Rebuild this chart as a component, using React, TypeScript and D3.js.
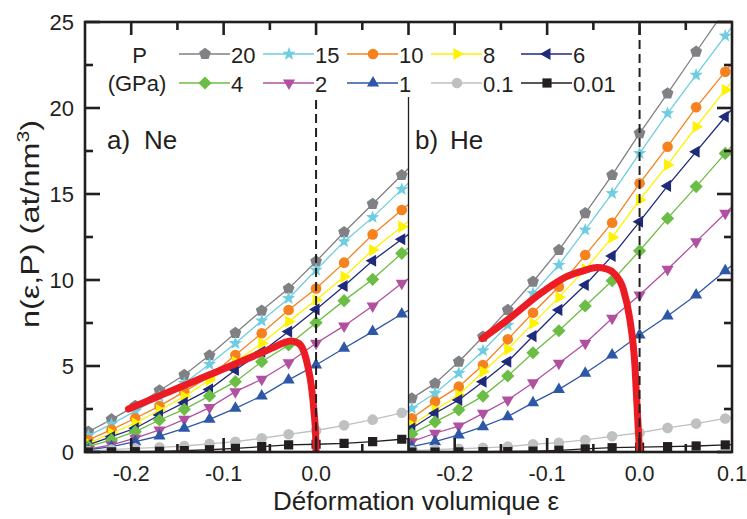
import React from 'react';
import * as d3 from 'd3';

// Volumetric strain values of the computed points (last one lies beyond the frame, clipped)
const strain = [-0.2464, -0.2213, -0.1956, -0.1694, -0.1426, -0.1153, -0.0873, -0.0588, -0.0297, 0, 0.0303, 0.0612, 0.0927, 0.1249];

const pressures = ['20', '15', '10', '8', '6', '4', '2', '1', '0.1', '0.01'];
const colors = ['#808184', '#6fcde1', '#f6821f', '#fff200', '#1f2a7b', '#6bbd45', '#b14fa1', '#2d57a7', '#bfc0c2', '#231f20'];
const shapes = ['pentagon', 'star', 'circle', 'triRight', 'triLeft', 'diamond', 'triDown', 'triUp', 'circle', 'square'];

// a) Ne
const ne20 = [1.18, 1.90, 2.68, 3.58, 4.48, 5.62, 6.92, 8.22, 9.50, 11.08, 12.78, 14.42, 16.10, 17.8];
const ne15 = [0.95, 1.62, 2.38, 3.20, 4.00, 5.10, 6.32, 7.63, 8.93, 10.58, 12.23, 13.64, 15.27, 16.9];
const ne10 = [0.70, 1.30, 1.96, 2.67, 3.51, 4.38, 5.64, 6.90, 8.26, 9.51, 11.01, 12.65, 14.07, 15.5];
const ne8 = [0.50, 1.09, 1.67, 2.44, 3.22, 4.19, 5.25, 6.32, 7.58, 8.84, 10.19, 11.74, 13.10, 14.45];
const ne6 = [0.41, 0.89, 1.38, 2.15, 2.87, 3.64, 4.77, 5.83, 7.00, 8.29, 9.65, 11.12, 12.37, 13.6];
const ne4 = [0.31, 0.70, 1.18, 1.86, 2.48, 3.26, 4.09, 5.25, 6.22, 7.52, 8.80, 10.04, 11.55, 12.9];
const ne2 = [0.16, 0.41, 0.80, 1.28, 1.90, 2.58, 3.51, 4.23, 5.19, 6.32, 7.33, 8.49, 9.81, 11.0];
const ne1 = [0.12, 0.31, 0.60, 0.93, 1.38, 1.90, 2.54, 3.26, 4.19, 5.06, 6.03, 7.00, 8.02, 9.0];
const ne01 = [0.05, 0.14, 0.21, 0.27, 0.35, 0.47, 0.60, 0.80, 1.03, 1.25, 1.55, 1.88, 2.28, 2.7];
const ne001 = [0.0, 0.01, 0.02, 0.04, 0.08, 0.13, 0.21, 0.31, 0.41, 0.45, 0.50, 0.60, 0.74, 0.88];

// b) He
const he20 = [3.12, 3.99, 5.25, 6.70, 8.26, 9.90, 11.74, 13.88, 16.10, 18.53, 20.85, 23.27, 25.7, 28.0];
const he15 = [2.54, 3.41, 4.58, 5.89, 7.38, 9.22, 10.87, 12.91, 15.04, 17.36, 19.69, 21.92, 24.19, 26.5];
const he10 = [1.96, 2.93, 3.80, 5.06, 6.55, 8.10, 9.61, 11.45, 13.33, 15.62, 17.75, 20.04, 22.11, 24.3];
const he8 = [1.57, 2.44, 3.31, 4.67, 5.97, 7.48, 8.99, 10.62, 12.48, 14.65, 16.69, 18.91, 21.05, 23.2];
const he6 = [1.38, 2.25, 3.02, 4.09, 5.25, 6.74, 8.26, 9.71, 11.40, 13.39, 15.47, 17.46, 19.49, 21.5];
const he4 = [1.05, 1.75, 2.45, 3.25, 4.42, 5.77, 7.05, 8.49, 9.96, 11.70, 13.58, 15.43, 17.36, 19.3];
const he2 = [0.60, 1.09, 1.51, 2.25, 3.02, 4.03, 5.16, 6.32, 7.77, 9.13, 10.62, 12.23, 13.88, 15.5];
const he1 = [0.31, 0.60, 0.99, 1.47, 2.05, 2.87, 3.64, 4.58, 5.64, 6.80, 7.91, 9.13, 10.54, 11.9];
const he01 = [0.08, 0.14, 0.19, 0.24, 0.31, 0.45, 0.54, 0.70, 0.91, 1.12, 1.40, 1.65, 1.95, 2.25];
const he001 = [0.0, 0.0, 0.01, 0.02, 0.03, 0.05, 0.10, 0.18, 0.25, 0.28, 0.31, 0.35, 0.41, 0.48];

// red limit curves
const neCurveX = [-0.203, -0.17, -0.14, -0.11, -0.08, -0.06, -0.045, -0.035, -0.028, -0.02, -0.014, -0.009, -0.005, -0.002, -0.0005, 0];
const neCurveY = [2.5, 3.25, 3.93, 4.61, 5.29, 5.75, 6.1, 6.35, 6.45, 6.35, 5.95, 5.0, 3.8, 2.2, 1.0, 0];
const heCurveX = [-0.17, -0.14, -0.115, -0.1, -0.079, -0.06, -0.046, -0.036, -0.028, -0.0175, -0.0105, -0.005, -0.0024, 0];
const heCurveY = [6.6, 7.8, 8.9, 9.5, 10.2, 10.55, 10.72, 10.65, 10.4, 9.45, 7.7, 5.0, 2.3, 0];

const yTicks = [0, 5, 10, 15, 20, 25];
const yMinor = [2.5, 7.5, 12.5, 17.5, 22.5];
const xTicksNe = [-0.2, -0.1, 0.0];
const xTicksHe = [-0.2, -0.1, 0.0, 0.1];
const xMinor = [-0.15, -0.05, 0.05];

const neSeries = [ne20, ne15, ne10, ne8, ne6, ne4, ne2, ne1, ne01, ne001];
const heSeries = [he20, he15, he10, he8, he6, he4, he2, he1, he01, he001];

const FONT = "'Liberation Sans', Arial, Helvetica, sans-serif";

function poly(n: number, r: number, start: number) {
  const pts: string[] = [];
  for (let k = 0; k < n; k++) {
    const a = ((start + (360 / n) * k) * Math.PI) / 180;
    pts.push(`${(r * Math.cos(a)).toFixed(2)},${(r * Math.sin(a)).toFixed(2)}`);
  }
  return 'M' + pts.join('L') + 'Z';
}
function star(R: number, r: number) {
  const pts: string[] = [];
  for (let k = 0; k < 10; k++) {
    const a = ((-90 + 36 * k) * Math.PI) / 180;
    const rr = k % 2 === 0 ? R : r;
    pts.push(`${(rr * Math.cos(a)).toFixed(2)},${(rr * Math.sin(a)).toFixed(2)}`);
  }
  return 'M' + pts.join('L') + 'Z';
}
function markerPath(shape: string) {
  switch (shape) {
    case 'pentagon': return poly(5, 6.2, -90);
    case 'star': return star(7.0, 2.9);
    case 'circle': return d3.symbol(d3.symbolCircle, Math.PI * 5.3 * 5.3)() as string;
    case 'triUp': return poly(3, 7, -90);
    case 'triDown': return poly(3, 7, 90);
    case 'triRight': return poly(3, 7, 0);
    case 'triLeft': return poly(3, 7, 180);
    case 'diamond': return poly(4, 6.6, -90);
    case 'square': return 'M-4.6,-4.6L4.6,-4.6L4.6,4.6L-4.6,4.6Z';
  }
  return '';
}

const L = 85, R = 732, T = 22, B = 452, MID = 408.5;

export default function App() {
  const xNe = d3.scaleLinear().domain([-0.25, 0.1]).range([L, MID]);
  const xHe = d3.scaleLinear().domain([-0.25, 0.1]).range([MID, R]);
  const y = d3.scaleLinear().domain([0, 25]).range([B, T]);

  const panel = (series: number[][], x: d3.ScaleLinear<number, number>, cx: number[], cy: number[], clipId: string) => {
    const line = d3.line<number>().x((_, i) => x(strain[i])).y((v) => y(v));
    const curve = d3.line<number>().x((_, i) => x(cx[i])).y((v) => y(v)).curve(d3.curveMonotoneX);
    return (
      <g clipPath={`url(#${clipId})`}>
        {series.map((s, si) => (
          <g key={si}>
            <path d={line(s) as string} fill="none" stroke={colors[si]} strokeWidth={1.3} />
            {s.map((v, i) => (
              <path key={i} d={markerPath(shapes[si])} transform={`translate(${x(strain[i])},${y(v)})`} fill={colors[si]} />
            ))}
          </g>
        ))}
        <path d={curve(cy) as string} fill="none" stroke="#ec1c24" strokeWidth={7} strokeLinecap="round" strokeLinejoin="round" />
      </g>
    );
  };

  const legendX = [179, 263, 347, 431, 521];
  const legendY = [54, 83];

  return (
    <svg width={747} height={519} style={{ position: 'absolute', left: 0, top: 0, background: '#fff' }} fontFamily={FONT}>
      <defs>
        <clipPath id="clipNe"><rect x={L} y={T} width={MID - L} height={B - T} /></clipPath>
        <clipPath id="clipHe"><rect x={MID} y={T} width={R - MID} height={B - T} /></clipPath>
      </defs>
      <rect x={0} y={0} width={747} height={519} fill="#fff" />

      {panel(neSeries, xNe, neCurveX, neCurveY, 'clipNe')}
      {panel(heSeries, xHe, heCurveX, heCurveY, 'clipHe')}

      {/* legend background */}
      <rect x={L + 2} y={33} width={535} height={65} fill="#fff" />

      {/* divider */}
      <line x1={MID} x2={MID} y1={97} y2={B} stroke="#231f20" strokeWidth={1.3} />
      {/* dashed zero-strain lines */}
      <line x1={xNe(0)} x2={xNe(0)} y1={100} y2={B} stroke="#231f20" strokeWidth={2} strokeDasharray="9,5" />
      <line x1={xHe(0)} x2={xHe(0)} y1={T + 4} y2={B} stroke="#231f20" strokeWidth={2} strokeDasharray="9,5" />

      {/* legend */}
      <text x={139.5} y={62.5} fontSize={22} textAnchor="middle" fill="#231f20">P</text>
      <text x={137} y={90.5} fontSize={22} textAnchor="middle" fill="#231f20">(GPa)</text>
      {pressures.map((p, i) => {
        const row = i < 5 ? 0 : 1;
        const lx = legendX[i % 5];
        const ly = legendY[row];
        return (
          <g key={p}>
            <line x1={lx} x2={lx + 51} y1={ly} y2={ly} stroke={colors[i]} strokeWidth={1.3} />
            <path d={markerPath(shapes[i])} transform={`translate(${lx + 26},${ly})`} fill={colors[i]} />
            <text x={lx + 52} y={ly + 8.5} fontSize={22} fill="#231f20">{p}</text>
          </g>
        );
      })}

      {/* panel labels */}
      <text x={107} y={148.5} fontSize={26} fill="#231f20">a)</text>
      <text x={144} y={148.5} fontSize={26} fill="#231f20">Ne</text>
      <text x={415} y={148.5} fontSize={26} fill="#231f20">b)</text>
      <text x={450} y={148.5} fontSize={26} fill="#231f20">He</text>

      {/* frame */}
      <rect x={L} y={T} width={R - L} height={B - T} fill="none" stroke="#231f20" strokeWidth={2.6} />

      {/* y ticks */}
      {yTicks.map((t) => (
        <g key={'y' + t}>
          <line x1={L} x2={L + 15} y1={y(t)} y2={y(t)} stroke="#231f20" strokeWidth={2.6} />
          <line x1={R} x2={R - 15} y1={y(t)} y2={y(t)} stroke="#231f20" strokeWidth={2.6} />
          <text x={74} y={y(t) + 7.8} fontSize={22} textAnchor="end" fill="#231f20">{t}</text>
        </g>
      ))}
      {yMinor.map((t) => (
        <g key={'ym' + t}>
          <line x1={L} x2={L + 8} y1={y(t)} y2={y(t)} stroke="#231f20" strokeWidth={2.6} />
          <line x1={R} x2={R - 8} y1={y(t)} y2={y(t)} stroke="#231f20" strokeWidth={2.6} />
        </g>
      ))}

      {/* x ticks */}
      {[xNe, xHe].map((x, pi) => (
        <g key={'xp' + pi}>
          {[-0.2, -0.1, 0.0].concat(pi === 1 ? [] : [0.1]).map((t) => (
            <g key={'xt' + t}>
              <line x1={x(t)} x2={x(t)} y1={B} y2={B - 14} stroke="#231f20" strokeWidth={2.6} />
              <line x1={x(t)} x2={x(t)} y1={T} y2={T + 13} stroke="#231f20" strokeWidth={2.6} />
            </g>
          ))}
          {xMinor.map((t) => (
            <g key={'xm' + t}>
              <line x1={x(t)} x2={x(t)} y1={B} y2={B - 8} stroke="#231f20" strokeWidth={2.6} />
              <line x1={x(t)} x2={x(t)} y1={T} y2={T + 8} stroke="#231f20" strokeWidth={2.6} />
            </g>
          ))}
        </g>
      ))}
      {xTicksNe.map((t) => (
        <text key={'ln' + t} x={xNe(t)} y={480.5} fontSize={21.5} textAnchor="middle" fill="#231f20">{t.toFixed(1)}</text>
      ))}
      {xTicksHe.map((t) => (
        <text key={'lh' + t} x={xHe(t)} y={480.5} fontSize={21.5} textAnchor="middle" fill="#231f20">{t.toFixed(1)}</text>
      ))}

      {/* axis titles */}
      <text x={416} y={509.5} fontSize={26} textAnchor="middle" fill="#231f20">Déformation volumique ε</text>
      <text transform="translate(39,224) rotate(-90)" fontSize={26} textAnchor="middle" fill="#231f20" textLength={208} lengthAdjust="spacingAndGlyphs">
        n(ε,P) (at/nm<tspan fontSize={17} dy={-10}>3</tspan><tspan dy={10}>)</tspan>
      </text>
    </svg>
  );
}
